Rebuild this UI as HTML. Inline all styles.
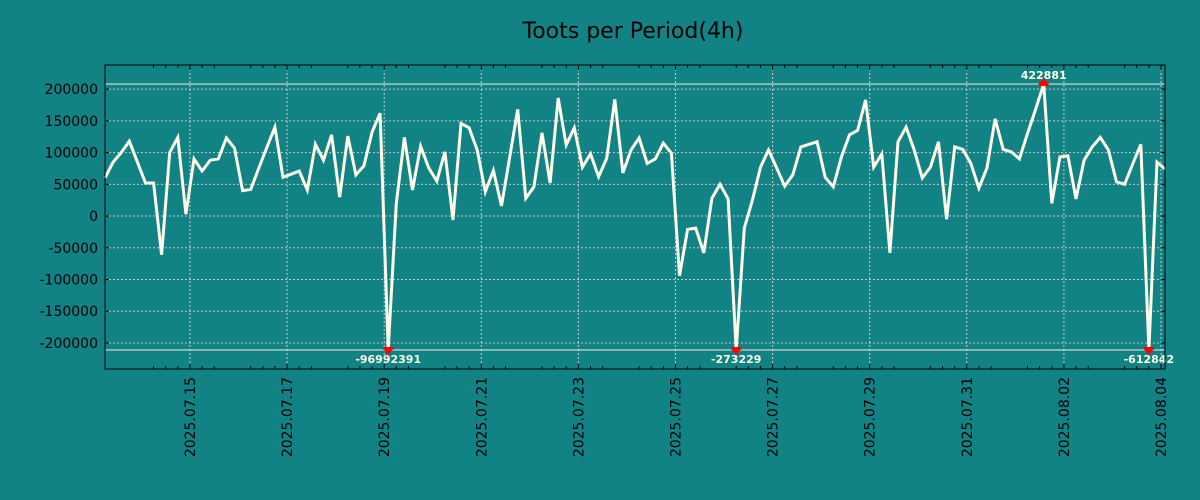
<!DOCTYPE html>
<html><head><meta charset="utf-8"><style>
body{margin:0;background:#118385;}
svg{display:block;font-family:"DejaVu Sans","Liberation Sans",sans-serif;}
</style></head><body>
<svg id="chart" width="1200" height="500" viewBox="0 0 1200 500" xmlns="http://www.w3.org/2000/svg">
<rect width="1200" height="500" fill="#118385"/>
<text x="633" y="38" font-size="22" text-anchor="middle" fill="#000">Toots per Period(4h)</text>
<g id="grid"></g>
<g id="series"></g>
<g id="axes"></g>
</svg>
<script>
const values = [60000,85000,100000,118000,85000,52000,52000,-61000,100000,124000,3000,90000,71000,88000,90000,123000,107000,40000,42000,75000,108000,140000,61000,66000,71000,41000,113000,88000,128000,30000,126000,65000,79000,132000,162000,-96992391,20000,124000,41000,110000,76000,55000,101000,-6000,146000,139000,104000,38000,72000,16000,92000,168000,28000,46000,131000,52000,186000,112000,139000,77000,98000,62000,91000,184000,68000,104000,123000,83000,90000,115000,99000,-94000,-21000,-19000,-58000,28000,50000,27000,-273229,-19000,25000,77000,104000,76000,47000,65000,109000,113000,117000,61000,46000,93000,128000,135000,183000,77000,98000,-58000,117000,140000,104000,60000,77000,117000,-5000,109000,105000,83000,44000,76000,153000,105000,101000,90000,130000,168000,422881,20000,93000,95000,27000,88000,109000,124000,104000,54000,50000,82000,113000,-612842,85000,74000];
const yTicks = [200000,150000,100000,50000,0,-50000,-100000,-150000,-200000];
const xTickLabels = ["2025.07.15","2025.07.17","2025.07.19","2025.07.21","2025.07.23","2025.07.25","2025.07.27","2025.07.29","2025.07.31","2025.08.02","2025.08.04"];
const xTickIdx = [10.5,22.5,34.5,46.5,58.5,70.5,82.5,94.5,106.5,118.5,130.5];
const clipMax = 208000, clipMin = -211000;

const L=105,R=1165,T=65,B=369, yMin=-241000,yMax=238000;
const step=8.092;
const X=i=>L+i*step;
const Y=v=>B-(v-yMin)/(yMax-yMin)*(B-T);
const NS="http://www.w3.org/2000/svg";
function mk(tag,attrs,parent){const e=document.createElementNS(NS,tag);for(const k in attrs)e.setAttribute(k,attrs[k]);parent.appendChild(e);return e;}
const grid=document.getElementById('grid'),series=document.getElementById('series'),axes=document.getElementById('axes');

yTicks.forEach(v=>{
  const g=mk('line',{x1:L,x2:R,y1:Y(v),y2:Y(v),stroke:'#c8c8c8','stroke-width':1,'stroke-dasharray':'2,2'},grid);
  
  
  const t=mk('text',{x:98,y:Y(v)+5,'font-size':14,'text-anchor':'end',fill:'#000'},axes);
  t.textContent=String(v);
  
  
  [L,R-4].forEach(x=>{const tk=mk('line',{x1:x,x2:x+4,y1:Y(v),y2:Y(v),stroke:'#000'},axes);
  
  });
});
xTickIdx.forEach((ix,k)=>{
  const x=X(ix);
  const g=mk('line',{x1:x,x2:x,y1:T,y2:B,stroke:'#c8c8c8','stroke-width':1,'stroke-dasharray':'2,2'},grid);
  
  
  const t=mk('text',{x:0,y:0,'font-size':14,'text-anchor':'end',fill:'#000',transform:`translate(${x+5},377) rotate(-90)`},axes);
  t.textContent=xTickLabels[k];
  
  
  [[B-5,B],[T,T+5]].forEach(p=>{const tk=mk('line',{x1:x,x2:x,y1:p[0],y2:p[1],stroke:'#000'},axes);
  
  });
  for(let m=-3;m<3;m++){const mx=x+m*step*1.5+step*1.5*0; if(m===0)continue; const xm=x+m*step*1.5; if(xm>L&&xm<R){[[B-3,B],[T,T+3]].forEach(p=>{const tk=mk('line',{x1:xm,x2:xm,y1:p[0],y2:p[1],stroke:'#000'},axes);
  
  });}}
});
[clipMax,clipMin].forEach(v=>{const l=mk('line',{x1:L,x2:R,y1:Y(v),y2:Y(v),stroke:'#e0e0d8','stroke-width':1.2},grid);

});

const pts=values.map((v,i)=>X(i).toFixed(1)+','+Y(Math.max(clipMin,Math.min(clipMax,v))).toFixed(1)).join(' ');
const pl=mk('polyline',{points:pts,fill:'none',stroke:'#fffbe8','stroke-width':3,'stroke-linejoin':'miter'},series);



values.forEach((v,i)=>{
  if(v<=clipMax&&v>=clipMin)return;
  const x=X(i), up=v>clipMax, y=Y(up?clipMax:clipMin);
  const g=mk('g',{},series);
  
  
  mk('rect',{x:x-5,y:up?y-1:y-3,width:10,height:3,fill:'#ff0000'},g);
  mk('polygon',{points:up?`${x-4},${y-1} ${x+4},${y-1} ${x},${y-6}`:`${x-4},${y} ${x+4},${y} ${x},${y+5}`,fill:'#ff0000'},g);
  const t=mk('text',{x:x,y:up?y-5:y+13,'font-size':11,'font-weight':'bold','text-anchor':'middle',fill:'#fffbe8'},g);
  t.textContent=String(v);
});
const fr=mk('rect',{x:L,y:T,width:R-L,height:B-T,fill:'none',stroke:'#000','stroke-width':1},axes);


</script>
</body></html>
